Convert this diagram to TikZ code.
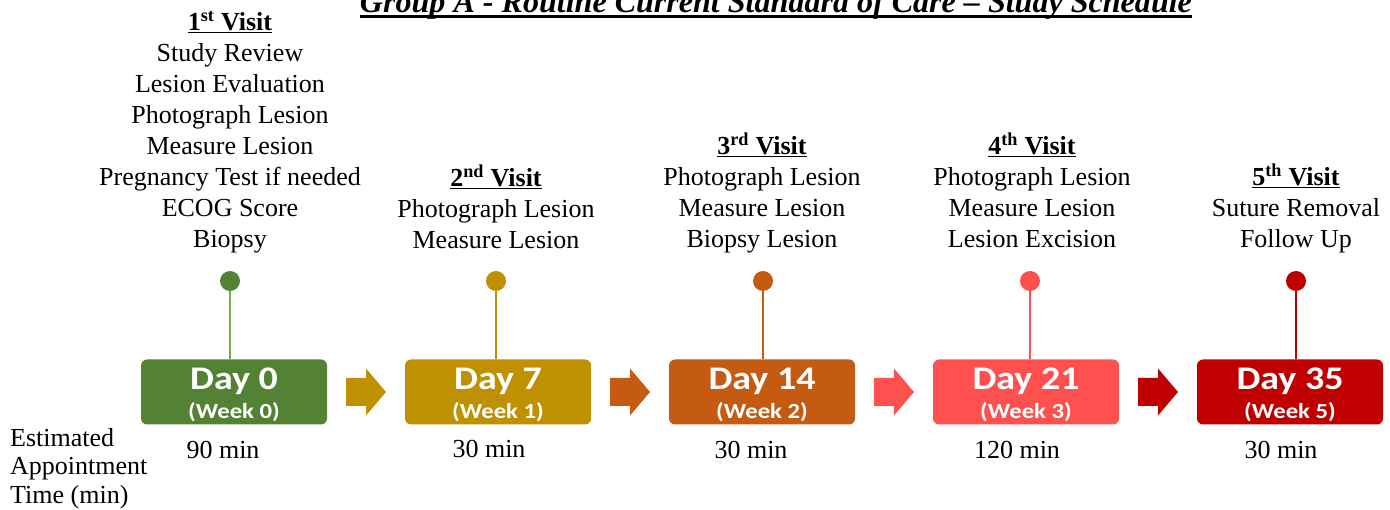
\documentclass[tikz,border=0pt]{standalone}
\usepackage{fontspec}
\setmainfont{Liberation Serif}
\newfontfamily\calibri{Carlito}
\usetikzlibrary{calc}
\definecolor{cgreen}{HTML}{548235}
\definecolor{cgreenl}{HTML}{70AD47}
\definecolor{cgold}{HTML}{BF9000}
\definecolor{corange}{HTML}{C55A11}
\definecolor{csalmon}{HTML}{FF5050}
\definecolor{cdred}{HTML}{C00000}
\begin{document}
\begin{tikzpicture}[x=1pt,y=-1pt,
  vtxt/.style={font=\fontsize{26}{31}\selectfont, align=center, anchor=south, inner sep=0pt},
  box/.style={rounded corners=6pt, minimum width=186pt, minimum height=65pt, inner sep=0pt},
  boxtxt/.style={text=white, align=center, inner sep=0pt, font=\calibri\bfseries\fontsize{21.5}{29}\selectfont},
  dot/.style={circle, minimum size=20pt, inner sep=0pt},
  stem/.style={line width=2.5pt},
  mins/.style={font=\fontsize{26}{31}\selectfont, anchor=base, inner sep=0pt}]
\useasboundingbox (0,0) rectangle (1390,510);

% title
\node[anchor=base, inner sep=0pt] (title) at (776,13)
  {\resizebox{832pt}{\height}{\fontsize{32}{32}\selectfont\bfseries\itshape Group A - Routine Current Standard of Care -- Study Schedule}};
\draw[line width=3pt] ([yshift=-3.5pt]title.base west) -- ([yshift=-3.5pt]title.base east);

% visit texts
\node[vtxt] (v1) at (230,257) {\underline{\textbf{1\textsuperscript{st} Visit}}\\Study Review\\Lesion Evaluation\\Photograph Lesion\\Measure Lesion\\Pregnancy Test if needed\\ECOG Score\\Biopsy\strut};
\node[vtxt] (v2) at (496,258) {\underline{\textbf{2\textsuperscript{nd} Visit}}\\Photograph Lesion\\Measure Lesion\strut};
\node[vtxt] (v3) at (762,257) {\underline{\textbf{3\textsuperscript{rd} Visit}}\\Photograph Lesion\\Measure Lesion\\Biopsy Lesion\strut};
\node[vtxt] (v4) at (1032,257) {\underline{\textbf{4\textsuperscript{th} Visit}}\\Photograph Lesion\\Measure Lesion\\Lesion Excision\strut};
\node[vtxt] (v5) at (1296,257) {\underline{\textbf{5\textsuperscript{th} Visit}}\\Suture Removal\\Follow Up\strut};

% boxes
\node[box, fill=cgreen]  (b1) at (234,392) {};
\node[box, fill=cgold]   (b2) at (498,392) {};
\node[box, fill=corange] (b3) at (762,392) {};
\node[box, fill=csalmon] (b4) at (1026,392) {};
\node[box, fill=cdred]   (b5) at (1290,392) {};

\foreach \i/\d/\w in {1/0/0, 2/7/1, 3/14/2, 4/21/3, 5/35/5}{
  \node[boxtxt] (t\i) at ([yshift=-3pt]b\i.center)
    {\scalebox{1.15}[1]{\fontsize{33}{33}\selectfont Day \d}\\\scalebox{1.15}[1]{(Week \w)}};
}

% dots and stems
\node[dot, fill=cgreen]  (p1) at (230,281) {};
\node[dot, fill=cgold]   (p2) at (496,281) {};
\node[dot, fill=corange] (p3) at (763,281) {};
\node[dot, fill=csalmon] (p4) at (1030,281) {};
\node[dot, fill=cdred]   (p5) at (1296,281) {};
\draw[stem, cgreenl] (p1.south) -- (p1.south |- b1.north);
\draw[stem, cgold]   (p2.south) -- (p2.south |- b2.north);
\draw[stem, corange] (p3.south) -- (p3.south |- b3.north);
\draw[stem, csalmon] (p4.south) -- (p4.south |- b4.north);
\draw[stem, cdred]   (p5.south) -- (p5.south |- b5.north);

% block arrows
\foreach \a/\b/\c in {1/2/cgold, 2/3/corange, 3/4/csalmon, 4/5/cdred}{
  \path (b\a.east) -- (b\b.west) coordinate[midway] (m\a);
  \fill[\c] ($(m\a)+(-20,-14)$) -- ($(m\a)+(0,-14)$) -- ($(m\a)+(0,-23.5)$) -- ($(m\a)+(20,0)$)
    -- ($(m\a)+(0,23.5)$) -- ($(m\a)+(0,14)$) -- ($(m\a)+(-20,14)$) -- cycle;
}

% minutes
\node[mins] (n1) at (223,459) {90 min};
\node[mins] (n2) at (489,457) {30 min};
\node[mins] (n3) at (751,459) {30 min};
\node[mins] (n4) at (1017,459) {120 min};
\node[mins] (n5) at (1281,459) {30 min};

\node[anchor=north west, align=left, inner sep=0pt, font=\fontsize{26}{28.5}\selectfont] (est) at (10,426)
  {\strut Estimated\\Appointment\\Time (min)};
\end{tikzpicture}
\end{document}
